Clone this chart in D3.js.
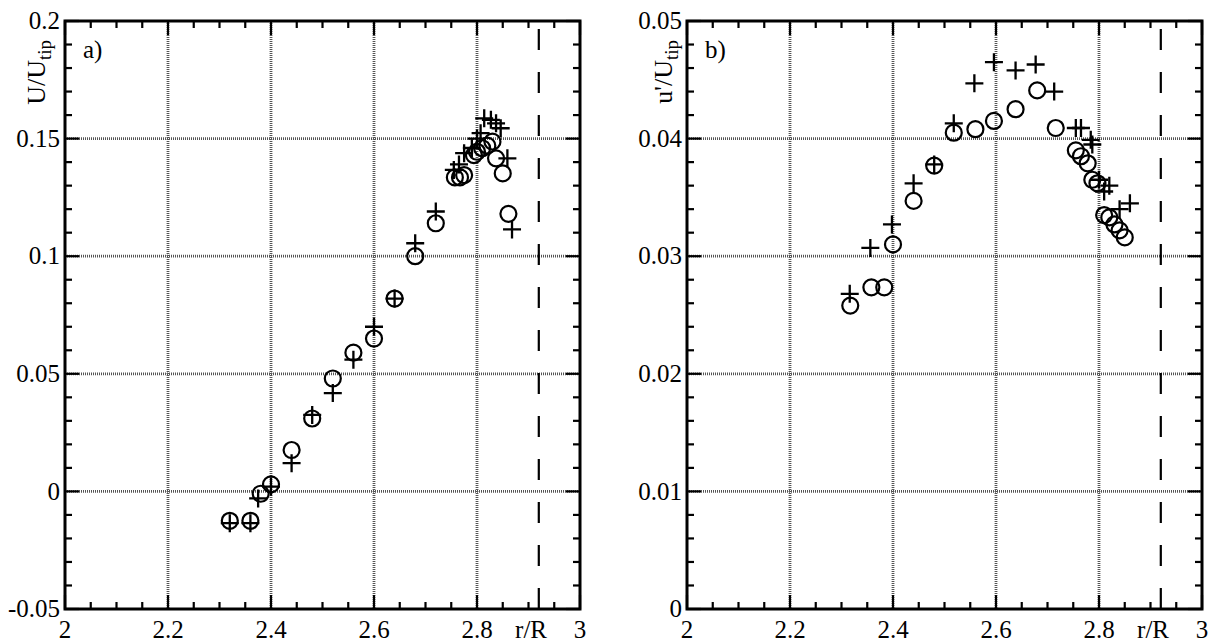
<!DOCTYPE html>
<html>
<head>
<meta charset="utf-8">
<script src="https://cdn.jsdelivr.net/npm/d3@7"></script>
<style>
    body { margin: 0; background: #fff; }
    svg { display: block; }
</style>
</head>
<body>
<div id="chart"></div>
<script>
// panel a) mean velocity
const leftCircleR = [2.32, 2.36, 2.38, 2.40, 2.44, 2.48, 2.52, 2.56, 2.60, 2.64, 2.68, 2.72, 2.757, 2.767, 2.775, 2.794, 2.80, 2.81, 2.82, 2.83, 2.837, 2.85, 2.861];
const leftCircleU = [-0.0125, -0.0125, -0.001, 0.003, 0.0176, 0.031, 0.048, 0.059, 0.065, 0.082, 0.100, 0.114, 0.1335, 0.1335, 0.1345, 0.143, 0.1444, 0.1459, 0.147, 0.1487, 0.1416, 0.1352, 0.118];
const leftPlusR = [2.32, 2.36, 2.375, 2.40, 2.44, 2.48, 2.52, 2.56, 2.60, 2.64, 2.68, 2.72, 2.755, 2.765, 2.775, 2.79, 2.80, 2.807, 2.814, 2.827, 2.837, 2.846, 2.859, 2.868];
const leftPlusU = [-0.0135, -0.0135, -0.003, 0.002, 0.012, 0.0325, 0.0418, 0.056, 0.070, 0.082, 0.1055, 0.119, 0.1367, 0.139, 0.1438, 0.146, 0.150, 0.1523, 0.1586, 0.158, 0.1565, 0.1544, 0.1416, 0.1114];

// panel b) rms fluctuation
const rightCircleR = [2.317, 2.358, 2.383, 2.40, 2.44, 2.48, 2.518, 2.56, 2.596, 2.638, 2.68, 2.716, 2.755, 2.765, 2.778, 2.787, 2.797, 2.81, 2.82, 2.83, 2.84, 2.85];
const rightCircleU = [0.0258, 0.02735, 0.02735, 0.031, 0.0347, 0.0377, 0.0405, 0.0408, 0.0415, 0.0425, 0.0441, 0.0409, 0.0390, 0.0385, 0.0379, 0.0365, 0.0362, 0.0335, 0.0333, 0.0327, 0.0322, 0.0316];
const rightPlusR = [2.316, 2.356, 2.398, 2.44, 2.48, 2.518, 2.558, 2.596, 2.638, 2.677, 2.713, 2.755, 2.765, 2.784, 2.787, 2.80, 2.81, 2.82, 2.84, 2.86];
const rightPlusU = [0.0268, 0.0307, 0.0327, 0.0362, 0.0378, 0.0413, 0.0447, 0.0465, 0.0458, 0.0463, 0.0440, 0.0409, 0.0409, 0.0399, 0.0395, 0.0365, 0.0355, 0.036, 0.034, 0.0345];

const xTicks = [2, 2.2, 2.4, 2.6, 2.8, 3];
const xTickLabels = ["2", "2.2", "2.4", "2.6", "2.8", "3"];
const leftYTicks = [-0.05, 0, 0.05, 0.1, 0.15, 0.2];
const leftYTickLabels = ["-0.05", "0", "0.05", "0.1", "0.15", "0.2"];
const rightYTicks = [0, 0.01, 0.02, 0.03, 0.04, 0.05];
const rightYTickLabels = ["0", "0.01", "0.02", "0.03", "0.04", "0.05"];
const wallR = 2.92;

const width = 1210, height = 643;
const FONT = "'Liberation Serif', 'Times New Roman', Times, 'DejaVu Serif', serif";
const svg = d3.select("#chart").append("svg")
    .attr("width", width).attr("height", height)
    .attr("font-family", FONT);

function drawPanel(opts) {
    const x = d3.scaleLinear().domain([2, 3]).range([opts.left, opts.left + 515]);
    const y = d3.scaleLinear().domain(opts.yDomain).range([609, 21]);
    const g = svg.append("g");

    // dotted grid
    const grid = g.append("g").attr("stroke", "#555").attr("stroke-width", 2.8).attr("stroke-dasharray", "1,1");
    xTicks.slice(1, -1).forEach(t => grid.append("line")
        .attr("x1", x(t)).attr("x2", x(t)).attr("y1", y.range()[1]).attr("y2", y.range()[0]));
    opts.yTicks.slice(1, -1).forEach(t => grid.append("line")
        .attr("x1", x.range()[0]).attr("x2", x.range()[1]).attr("y1", y(t)).attr("y2", y(t)));

    // wall position
    g.append("line")
        .attr("x1", x(wallR)).attr("x2", x(wallR)).attr("y1", y.range()[0]).attr("y2", y.range()[1])
        .attr("stroke", "#000").attr("stroke-width", 2.2).attr("stroke-dasharray", "21,22");

    // markers
    const circles = d3.zip(opts.circleR, opts.circleU);
    g.selectAll(".c").data(circles).enter().append("circle")
        .attr("cx", d => x(d[0])).attr("cy", d => y(d[1])).attr("r", 8)
        .attr("fill", "none").attr("stroke", "#000").attr("stroke-width", 2.2);

    const pluses = d3.zip(opts.plusR, opts.plusU);
    g.selectAll(".p").data(pluses).enter().append("path")
        .attr("d", d => {
            const px = x(d[0]), py = y(d[1]), s = 9;
            return `M${px - s},${py}H${px + s}M${px},${py - s}V${py + s}`;
        })
        .attr("stroke", "#000").attr("stroke-width", 2.3).attr("fill", "none");

    // frame
    const [x0, x1] = x.range();
    const [y0, y1] = [y.range()[1], y.range()[0]];
    g.append("rect").attr("x", x0).attr("y", y0).attr("width", x1 - x0).attr("height", y1 - y0)
        .attr("fill", "none").attr("stroke", "#000").attr("stroke-width", 3);

    // inward ticks
    const ticks = g.append("g").attr("stroke", "#000").attr("stroke-width", 2.2);
    d3.range(0, 21).forEach(i => {
        const t = 2 + i * 0.05;
        const len = i % 4 === 0 ? 14 : 7;
        ticks.append("line").attr("x1", x(t)).attr("x2", x(t)).attr("y1", y1).attr("y2", y1 - len);
        ticks.append("line").attr("x1", x(t)).attr("x2", x(t)).attr("y1", y0).attr("y2", y0 + len);
    });
    const yStep = (opts.yDomain[1] - opts.yDomain[0]) / 25;
    d3.range(0, 26).forEach(i => {
        const t = opts.yDomain[0] + i * yStep;
        const len = i % 5 === 0 ? 14 : 7;
        ticks.append("line").attr("x1", x0).attr("x2", x0 + len).attr("y1", y(t)).attr("y2", y(t));
        ticks.append("line").attr("x1", x1).attr("x2", x1 - len).attr("y1", y(t)).attr("y2", y(t));
    });

    // tick labels
    g.selectAll(".xl").data(xTicks).enter().append("text")
        .attr("x", d => x(d)).attr("y", 638).attr("text-anchor", "middle")
        .attr("font-size", 25).text((d, i) => xTickLabels[i]);
    g.selectAll(".yl").data(opts.yTicks).enter().append("text")
        .attr("x", x0 - 5).attr("y", d => y(d)).attr("dy", "0.33em").attr("text-anchor", "end")
        .attr("font-size", 25).text((d, i) => opts.yTickLabels[i]);

    g.append("text").attr("x", x(2.905)).attr("y", 638).attr("text-anchor", "middle")
        .attr("font-size", 25).text("r/R");

    // axis title
    const title = g.append("text")
        .attr("transform", `translate(${opts.titleX},40) rotate(-90)`)
        .attr("text-anchor", "end").attr("font-size", 26);
    title.append("tspan").text(opts.title);
    title.append("tspan").attr("dy", 6).attr("font-size", 19).text("tip");

    g.append("text").attr("x", x0 + 18).attr("y", 58).attr("font-size", 25).text(opts.label);
}

drawPanel({
    left: 65, yDomain: [-0.05, 0.2], yTicks: leftYTicks, yTickLabels: leftYTickLabels,
    circleR: leftCircleR, circleU: leftCircleU, plusR: leftPlusR, plusU: leftPlusU,
    title: "U/U", titleX: 45, label: "a)"
});
drawPanel({
    left: 687, yDomain: [0, 0.05], yTicks: rightYTicks, yTickLabels: rightYTickLabels,
    circleR: rightCircleR, circleU: rightCircleU, plusR: rightPlusR, plusU: rightPlusU,
    title: "u'/U", titleX: 672, label: "b)"
});
</script>
</body>
</html>
